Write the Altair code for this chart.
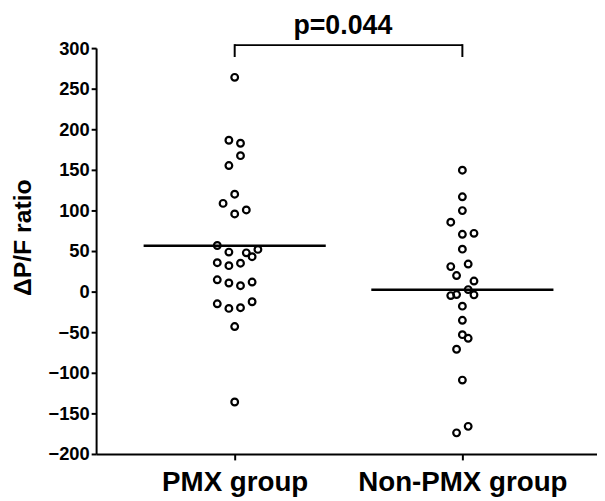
import altair as alt
import pandas as pd

groups = ["PMX group", "Non-PMX group"]

pmx_values = [264, 186.5, 182.8, 167.5, 155.3, 120, 108.7, 100.6, 95.7,
              56.8, 48.7, 47.8, 52, 43, 35.6, 32, 35, 14.6, 10.6, 7.3, 11.8,
              -15, -20.7, -19.8, -12.5, -43, -136]
pmx_slots = [0, -1, 1, 1, -1, 0, -2, 2, 0,
             -3, -1, 2, 4, 3, -3, -1, 1, -3, -1, 1, 3,
             -3, -1, 1, 3, 0, 0]

non_values = [149.6, 116.8, 99.8, 85.5, 70.6, 71.8, 52.3, 30.8, 34, 19.8, 13, 2.5,
              -4.9, -3.6, -4, -17.9, -35.3, -53, -57.5, -71, -109, -166, -174]
non_slots = [0, 0, 0, -2, 0, 2, 0, -2, 1, -1, 2, 1,
             -2, -1, 2, 0, 0, 0, 1, -1, 0, 1, -1]

p_label = "p=0.044"

df = pd.DataFrame({
    "group": [groups[0]] * len(pmx_values) + [groups[1]] * len(non_values),
    "pos": [1] * len(pmx_values) + [2] * len(non_values),
    "slot": pmx_slots + non_slots,
    "value": pmx_values + non_values,
})

FONT = "Liberation Sans"
SLOT = 0.0255

xscale = alt.Scale(domain=[0.3913, 2.5913], nice=False, zero=False)
yscale = alt.Scale(domain=[-200, 300], nice=False, zero=False)

label_expr = "datum.value == 1 ? '%s' : (datum.value == 2 ? '%s' : '')" % (groups[0], groups[1])

points = alt.Chart(df).transform_calculate(
    xp="datum.pos + datum.slot * %f" % SLOT
).mark_point(shape="circle", filled=False, stroke="black", strokeWidth=2.2, size=46, opacity=1).encode(
    x=alt.X("xp:Q", scale=xscale, title=None,
            axis=alt.Axis(values=[1, 2], labelExpr=label_expr, tickSize=6, labelFontSize=28,
                          labelPadding=9, grid=False, labelLimit=0, labelOverlap=False,
                          labelFlush=False)),
    y=alt.Y("value:Q", scale=yscale, title="ΔP/F ratio",
            axis=alt.Axis(values=list(range(-200, 301, 50)), tickSize=5, labelFontSize=18.5,
                          labelPadding=2, grid=False, titleFontSize=25,
                          titleX=-74, titleY=191, titleAngle=270,
                          titleBaseline="middle", titleAlign="center")),
)

means = alt.Chart(df).transform_aggregate(
    mean="mean(value)", groupby=["pos"]
).transform_calculate(
    x1="datum.pos - 0.4", x2="datum.pos + 0.4"
).mark_rule(stroke="black", strokeWidth=2.5).encode(
    x=alt.X("x1:Q", scale=xscale), x2="x2:Q", y=alt.Y("mean:Q", scale=yscale)
)

br = pd.DataFrame({"pos": [1, 2]})
bracket_h = alt.Chart(br).transform_aggregate(a="min(pos)", b="max(pos)").mark_rule(
    stroke="black", strokeWidth=2).encode(
    x=alt.X("a:Q", scale=xscale), x2="b:Q", y=alt.value(-3),
)
bracket_v = alt.Chart(br).mark_rule(stroke="black", strokeWidth=2).encode(
    x=alt.X("pos:Q", scale=xscale), y=alt.value(-4), y2=alt.value(9)
)
ptext = alt.Chart(pd.DataFrame({"label": [p_label], "pos": [1.475]})).mark_text(
    font=FONT, fontWeight="bold", fontSize=27, baseline="alphabetic", align="center", color="black"
).encode(x=alt.X("pos:Q", scale=xscale), y=alt.value(-14), text="label:N")

chart = alt.layer(points, means, bracket_h, bracket_v, ptext).properties(
    width=506, height=410,
    autosize=alt.AutoSizeParams(type="none"),
    padding={"left": 89, "top": 38, "right": 0, "bottom": 45},
    background="white",
).configure_view(stroke=None).configure_axis(
    domainColor="black", domainWidth=2, tickColor="black", tickWidth=2,
    labelFont=FONT, labelFontWeight="bold", labelColor="black",
    titleFont=FONT, titleFontWeight="bold", titleColor="black",
)

chart.save("out.html", embed_options={"renderer": "svg", "actions": False})
